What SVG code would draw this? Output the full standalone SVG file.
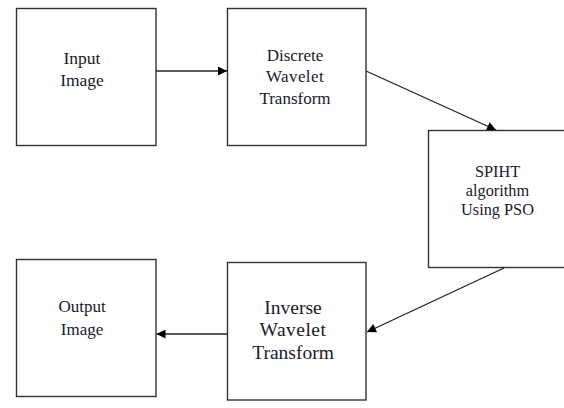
<svg xmlns="http://www.w3.org/2000/svg" width="564" height="408" viewBox="0 0 564 408">
<style>
.box{fill:#fff;stroke:#333;stroke-width:1.4}
.lbl{fill:#1a1a2a;text-anchor:middle}
.conn{stroke:#222;stroke-width:1.3;fill:none;marker-end:url(#ah)}
</style>
<defs>
<marker id="ah" viewBox="0 0 10 10" refX="10" refY="5" markerWidth="10" markerHeight="9" markerUnits="userSpaceOnUse" orient="auto">
<path d="M0,0 L10,5 L0,10 z" fill="#000"/>
</marker>
</defs>
<rect width="564" height="408" fill="#fff"/>
<g id="connectors">
<line class="conn" x1="156" y1="71" x2="227" y2="71"/>
<line class="conn" x1="366" y1="71" x2="496" y2="130"/>
<line class="conn" x1="504" y1="268" x2="367" y2="332"/>
<line class="conn" x1="227" y1="334" x2="156.5" y2="334"/>
</g>
<g id="input-image">
<rect class="box" x="16.5" y="8.5" width="139.5" height="137"/>
<text class="lbl" font-family="'Liberation Serif', 'Times New Roman', Times, serif" font-size="17.5"><tspan x="82" y="63.5">Input</tspan><tspan x="82" y="85.5">Image</tspan></text>
</g>
<g id="dwt">
<rect class="box" x="227.5" y="8.5" width="138.5" height="137"/>
<text class="lbl" font-family="'Liberation Serif', 'Times New Roman', Times, serif" font-size="17"><tspan x="295" y="60.5">Discrete</tspan><tspan x="295" y="82" letter-spacing="0.4">Wavelet</tspan><tspan x="295" y="103.5">Transform</tspan></text>
</g>
<g id="spiht">
<rect class="box" x="428.5" y="130.5" width="140" height="137"/>
<text class="lbl" font-family="'Liberation Serif', 'Times New Roman', Times, serif" font-size="16.3"><tspan x="497.5" y="176.5">SPIHT</tspan><tspan x="497.5" y="195.5">algorithm</tspan><tspan x="497.5" y="214.5">Using PSO</tspan></text>
</g>
<g id="output-image">
<rect class="box" x="16.5" y="259.5" width="139.5" height="137"/>
<text class="lbl" font-family="'Liberation Serif', 'Times New Roman', Times, serif" font-size="17"><tspan x="82" y="311.5">Output</tspan><tspan x="82" y="334.5">Image</tspan></text>
</g>
<g id="iwt">
<rect class="box" x="227.5" y="262.5" width="138.5" height="137.5"/>
<text class="lbl" font-family="'Liberation Serif', 'Times New Roman', Times, serif" font-size="19.5"><tspan x="293" y="313.5">Inverse</tspan><tspan x="293" y="335.5" letter-spacing="0.5">Wavelet</tspan><tspan x="293" y="358.5">Transform</tspan></text>
</g>
</svg>
